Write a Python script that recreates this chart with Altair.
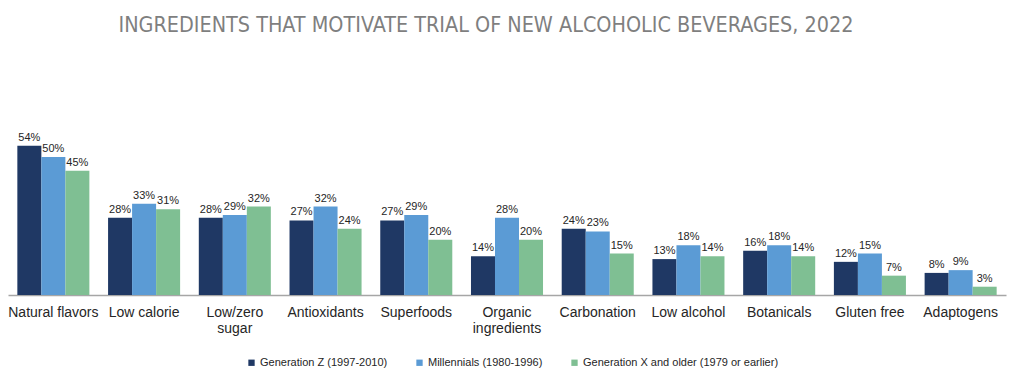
import altair as alt
import pandas as pd

categories = ["Natural flavors", "Low calorie", "Low/zero sugar", "Antioxidants",
              "Superfoods", "Organic ingredients", "Carbonation", "Low alcohol",
              "Botanicals", "Gluten free", "Adaptogens"]
series = ["Generation Z (1997-2010)", "Millennials (1980-1996)",
          "Generation X and older (1979 or earlier)"]
gen_z = [54, 28, 28, 27, 27, 14, 24, 13, 16, 12, 8]
millennials = [50, 33, 29, 32, 29, 28, 23, 18, 18, 15, 9]
gen_x = [45, 31, 32, 24, 20, 20, 15, 14, 14, 7, 3]
colors = ["#1F3864", "#5B9BD5", "#7FBF93"]

rows = []
for s, vals in zip(series, [gen_z, millennials, gen_x]):
    for c, v in zip(categories, vals):
        rows.append({"category": c, "series": s, "value": v, "label": f"{v}%"})
df = pd.DataFrame(rows)

FONT = "Liberation Sans"

x = alt.X("category:N", sort=categories, title=None,
          scale=alt.Scale(paddingInner=0.206, paddingOuter=0.103),
          axis=alt.Axis(labelAngle=0, tickSize=0, labelPadding=10,
                        labelFontSize=14, labelFont=FONT, labelColor="#262626",
                        labelLineHeight=16, domainColor="#a6a6a6", domainWidth=1.5,
                        labelExpr="datum.label == 'Low/zero sugar' ? ['Low/zero', 'sugar'] : datum.label == 'Organic ingredients' ? ['Organic', 'ingredients'] : datum.label"))
xoff = alt.XOffset("series:N", sort=series)
y = alt.Y("value:Q", scale=alt.Scale(domain=[0, 80]), axis=None)

bars = alt.Chart(df).mark_bar().encode(
    x=x, xOffset=xoff, y=y,
    color=alt.Color("series:N", sort=series,
                    scale=alt.Scale(domain=series, range=colors),
                    legend=alt.Legend(title=None, orient="none", direction="horizontal",
                                      legendX=238, legendY=283,
                                      symbolType="square", symbolSize=40,
                                      symbolStrokeWidth=0, labelFontSize=11,
                                      labelFont=FONT, labelColor="#262626",
                                      labelLimit=400,
                                      columnPadding=26, labelOffset=3))
)

texts = alt.Chart(df).mark_text(baseline="bottom", dy=-3, fontSize=11, font=FONT,
                                color="#262626").encode(
    x=x, xOffset=xoff, y=y, text="label:N"
)

chart = (bars + texts).properties(
    width=998, height=221,
    title=alt.TitleParams("INGREDIENTS THAT MOTIVATE TRIAL OF NEW ALCOHOLIC BEVERAGES, 2022",
                          font="DejaVu Sans Condensed, Liberation Sans Narrow, Liberation Sans",
                          fontSize=21.4, fontWeight="normal",
                          color="#7f7f7f", anchor="middle", dx=-21, offset=38),
    autosize=alt.AutoSizeParams(type="none"),
    padding={"left": 0, "top": 66, "right": 2, "bottom": 80},
).configure_view(stroke=None)

chart.save("out.html", embed_options={"renderer": "svg", "actions": False})
